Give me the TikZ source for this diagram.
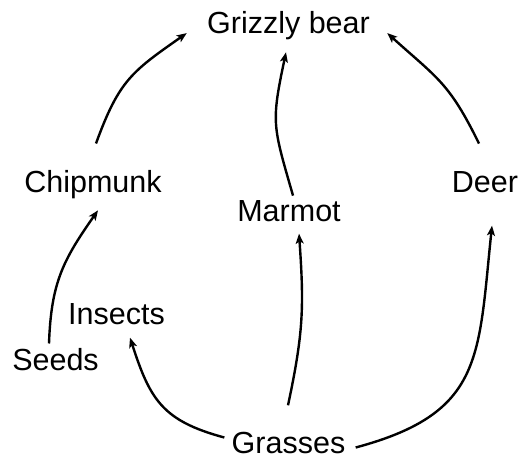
\documentclass[tikz,border=0pt]{standalone}
\usepackage{fontspec}
\setmainfont{Liberation Sans}
\usetikzlibrary{arrows.meta}

\begin{document}
\begin{tikzpicture}[x=0.5pt, y=0.5pt,
    animal/.style={font=\fontsize{15.25}{18}\selectfont, inner sep=0pt, anchor=base},
    eats/.style={-{Stealth[length=5pt, width=4pt, inset=1.2pt]}, line width=1.2pt}]

    \useasboundingbox (0,0) rectangle (522,458);

    % Animals and plants
    \node[animal] (bear) at (288.5,424) {Grizzly bear};
    \node[animal] (chipmunk) at (93,265) {Chipmunk};
    \node[animal] (marmot) at (289,236) {Marmot};
    \node[animal] (deer) at (485,265) {Deer};
    \node[animal] (insects) at (116.5,133) {Insects};
    \node[animal] (seeds) at (55.5,87) {Seeds};
    \node[animal] (grasses) at (288.5,4) {Grasses};

    % Who eats whom
    \draw[eats] ([shift={(3,27)}]chipmunk.north)
        to[out=70, in=215, looseness=1.2] ([shift={(-20,-7)}]bear.west);
    \draw[eats] ([shift={(4,5)}]marmot.north)
        to[out=106, in=258, looseness=1.3] ([shift={(-2.5,-11.6)}]bear.south);
    \draw[eats] ([shift={(-6,28)}]deer.north)
        to[out=116, in=-42, looseness=1.2] ([shift={(17,-7)}]bear.east);
    \draw[eats] ([shift={(-6.5,5)}]seeds.north)
        to[out=88, in=235, looseness=1.1] ([shift={(5,-10.6)}]chipmunk.south);
    \draw[eats] ([shift={(-7,6)}]grasses.west)
        to[out=165, in=-72, looseness=1.2] ([shift={(13.5,-12)}]insects.south);
    \draw[eats] ([shift={(-0.5,27)}]grasses.north)
        to[out=78, in=-86, looseness=1.1] ([shift={(10,-11)}]marmot.south);
    \draw[eats] ([shift={(10,-4)}]grasses.east)
        to[out=15, in=-96, looseness=1.3] ([shift={(7,-32)}]deer.south);

\end{tikzpicture}
\end{document}
